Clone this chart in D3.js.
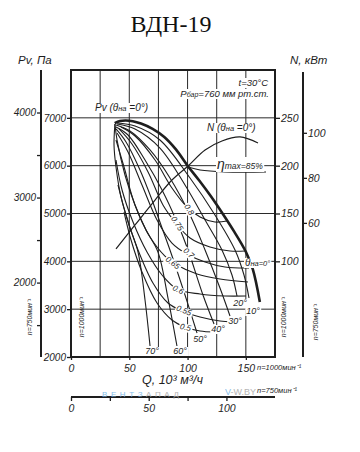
<!DOCTYPE html>
<html><head><meta charset="utf-8">
<script src="https://cdn.jsdelivr.net/npm/d3@7/dist/d3.min.js"></script>
<style>body{margin:0;background:#fff}svg{display:block}</style>
</head><body><svg id="c" width="360" height="452"></svg>
<script>
// ---------- data ----------
const qTicks1000 = [0, 50, 100, 150];
const qTicks750 = [0, 25, 50, 75, 100];
const qLabels750 = [0, 50, 100];
const qGrid = [25, 50, 75, 100, 125, 150];
const pTicks1000 = [2000, 3000, 4000, 5000, 6000, 7000];
const pGrid = [3000, 4000, 5000, 6000, 7000];
const pTicks750 = [1500, 2000, 2500, 3000, 3500, 4000];
const pLabels750 = [2000, 3000, 4000];
const nTicks1000 = [100, 150, 200, 250];
const nTicks750 = [60, 80, 100];

// Pv curves (Q, Pv) for guide-vane angles
const pv0  = [[37.5,6890],[42,6935],[47,6945],[53,6930],[60,6880],[70,6770],[80,6600],[90,6340],[100,6000],[110,5690],[120,5360],[130,5000],[140,4620],[150,4200],[156,3830],[162,3150]];
const pv10 = [[39.5,6892],[54.9,6829],[76.3,6537],[102.1,5742],[123.5,4969],[140.7,4237],[148.4,3714],[152.7,3233]];
const pv20 = [[39.5,6871],[54.9,6767],[76.3,6369],[97.8,5596],[115.0,4864],[129.5,4237],[138.1,3714],[142.4,3275]];
const pv30 = [[38.6,6850],[50.6,6725],[67.8,6328],[84.9,5742],[102.1,4969],[115.0,4237],[127.8,3442],[136.4,2857]];
const pv40 = [[38.6,6808],[48.9,6641],[63.5,6118],[78.1,5491],[90.9,4822],[100.4,4237],[113.2,3296],[122.7,2690]];
const pv50 = [[38.6,6767],[47.2,6495],[59.2,5909],[69.5,5282],[78.1,4697],[84.9,4237],[97.8,3296],[108.1,2502]];
const pv60 = [[37.7,6871],[39.5,6537],[46.3,5805],[54.9,5178],[64.3,4655],[74.6,4195],[83.2,3233],[90.9,2230]];
const pv70 = [[37.7,6871],[36.9,6432],[38.6,5972],[42.9,5345],[49.8,4760],[57.5,4195],[63.5,3192],[67.8,2230]];
const angles = [10, 20, 30, 40, 50, 60, 70];

// efficiency contours (Q, Pv)
const eta80 = [[42.9,6808],[54.9,6620],[72.1,6118],[86.6,5533],[99.5,5136],[110.7,4927],[123.5,4822],[133.8,4843]];
const eta75 = [[41.2,6767],[52.3,6453],[66.1,5868],[78.9,5178],[89.2,4822],[102.1,4488],[119.2,4300],[136.4,4216],[149.3,4216]];
const eta70 = [[39.5,6683],[48.9,6286],[60.9,5596],[73.8,4864],[86.6,4383],[99.5,4153],[115.0,3986],[132.1,3881],[152.7,3861]];
const eta65 = [[38.6,6537],[45.5,5972],[54.9,5178],[67.8,4509],[80.6,4111],[90.9,3923],[108.1,3735],[127.8,3631],[151.8,3568]];
const eta60 = [[38.6,6118],[43.8,5491],[53.2,4822],[65.2,4195],[78.1,3714],[90.9,3421],[110.7,3317],[132.1,3275],[150.1,3275]];
const eta55 = [[40.3,5596],[47.2,4969],[57.5,4237],[70.3,3547],[83.2,3129],[95.2,2962],[110.7,2836],[127.8,2753],[138.1,2732]];
const eta50 = [[45.5,5031],[51.5,4446],[60.9,3777],[73.8,3129],[86.6,2774],[97.8,2627],[110.7,2544],[122.7,2523]];
const etaNames = ["0.8", "0.75", "0.7", "0.65", "0.6", "0.55", "0.5"];
const etaMax = [[100.4,5972],[110.7,5910],[132,5870],[167.3,5868]];

// power curve N (Q, kW)
const powerN = [[38.6,112.9],[54.9,138.0],[72.1,164.1],[86.6,185.0],[100.4,199.7],[115.0,216.4],[129.5,225.8],[145.0,230.0],[160.4,223.7]];

// ---------- drawing ----------
const F = "'Liberation Sans', Arial, sans-serif";
const INK = "#1e1e1e";
const svg = d3.select("#c");

const x = d3.scaleLinear().domain([0, 175]).range([71, 275]);
const y = d3.scaleLinear().domain([2000, 8000]).range([357, 70]);
const yN = d3.scaleLinear().domain([0, 300]).range([357, 70]);
const y750 = d3.scaleLinear().domain([1125, 4500]).range([357, 70]);
const x750 = d3.scaleLinear().domain([0, 131.25]).range([71, 275]);
const yN750 = d3.scaleLinear().domain([0, 127]).range([358, 72]);

// title
svg.append("text").attr("x", 171).attr("y", 32).attr("text-anchor", "middle")
  .attr("font-family", "'Liberation Serif', 'Times New Roman', serif").attr("font-size", 24)
  .attr("fill", "#111").text("ВДН-19");

function it(sel, size) {
  return sel.attr("font-family", F).attr("font-style", "italic").attr("font-size", size).attr("fill", INK);
}
it(svg.append("text").attr("x", 18).attr("y", 64), 11.5).text("Pv, Па");
it(svg.append("text").attr("x", 290).attr("y", 64), 11.5).text("N, кВт");

// grid
const grid = svg.append("g").attr("stroke", "#2a2a2a").attr("stroke-width", 1);
grid.selectAll("line.v").data(qGrid).join("line")
  .attr("x1", d => x(d)).attr("x2", d => x(d)).attr("y1", y(8000)).attr("y2", y(2000));
grid.selectAll("line.h").data(pGrid).join("line").attr("class", "h")
  .attr("y1", d => y(d)).attr("y2", d => y(d)).attr("x1", x(0)).attr("x2", x(175));

// frame
svg.append("rect").attr("x", x(0)).attr("y", y(8000)).attr("width", x(175) - x(0))
  .attr("height", y(2000) - y(8000)).attr("fill", "none").attr("stroke", INK).attr("stroke-width", 2);

function styleAxis(g, size) {
  g.select(".domain").remove();
  g.selectAll(".tick line").attr("stroke", INK).attr("stroke-width", 1.3);
  g.selectAll(".tick text").attr("font-family", F).attr("font-style", "italic")
    .attr("font-size", size).attr("fill", INK);
}

// inner left axis (n = 1000)
svg.append("g").attr("transform", "translate(71,0)")
  .call(d3.axisLeft(y).tickValues(pTicks1000).tickSize(4).tickPadding(1).tickFormat(d3.format("d")))
  .call(g => styleAxis(g, 10));

// outer left axis (n = 750)
svg.append("line").attr("x1", 41).attr("x2", 41).attr("y1", 70).attr("y2", 357)
  .attr("stroke", INK).attr("stroke-width", 2);
svg.append("g").attr("transform", "translate(41,0)")
  .call(d3.axisLeft(y750).tickValues(pTicks750).tickSize(4).tickPadding(1)
    .tickFormat(d => pLabels750.includes(d) ? d : ""))
  .call(g => styleAxis(g, 10));

// inner right axis (N, n=1000)
svg.append("g").attr("transform", "translate(275,0)")
  .call(d3.axisRight(yN).tickValues(nTicks1000).tickSize(5).tickPadding(1))
  .call(g => styleAxis(g, 10.5));

// outer right axis (N, n=750)
svg.append("line").attr("x1", 303).attr("x2", 303).attr("y1", 72).attr("y2", 357)
  .attr("stroke", INK).attr("stroke-width", 2);
svg.append("g").attr("transform", "translate(303,0)")
  .call(d3.axisRight(yN750).tickValues(nTicks750).tickSize(4).tickPadding(1))
  .call(g => styleAxis(g, 10.5));

// bottom axis n=1000
svg.append("g").attr("transform", "translate(0,357)")
  .call(d3.axisBottom(x).tickValues(qTicks1000).tickSize(3).tickPadding(5))
  .call(g => styleAxis(g, 10.5));

// bottom axis n=750
svg.append("line").attr("x1", x750(0)).attr("x2", x750(131.25)).attr("y1", 397).attr("y2", 397)
  .attr("stroke", INK).attr("stroke-width", 2);
svg.append("g").attr("transform", "translate(0,397)")
  .call(d3.axisBottom(x750).tickValues(qTicks750).tickSize(4).tickPadding(4)
    .tickFormat(d => qLabels750.includes(d) ? d : ""))
  .call(g => styleAxis(g, 10.5));

// rotated rpm labels
function rot(xp, yp, txt) {
  it(svg.append("text").attr("transform", `translate(${xp},${yp}) rotate(-90)`)
    .attr("text-anchor", "middle"), 7).text(txt);
}
rot(32, 317, "n=750мин⁻¹");
rot(84, 317, "n=1000мин⁻¹");
rot(286, 317, "n=1000мин⁻¹");
rot(318, 322, "n=750мин⁻¹");

it(svg.append("text").attr("x", 257).attr("y", 370), 7.5).text("n=1000мин⁻¹");
it(svg.append("text").attr("x", 257).attr("y", 393), 7.5).text("n=750мин⁻¹");

// Q label + watermark
it(svg.append("text").attr("x", 142).attr("y", 384), 12.5).text("Q, 10³ м³/ч");
const wm = svg.append("text").attr("x", 102).attr("y", 397).attr("font-family", F)
  .attr("font-size", 8).attr("letter-spacing", 3.6).attr("opacity", 0.85);
wm.append("tspan").attr("fill", "#6fb3e6").text("ВЕНТЗ");
wm.append("tspan").attr("fill", "#a8a8a8").text("АПАД");
const wm2 = svg.append("text").attr("x", 225).attr("y", 395).attr("font-family", F)
  .attr("font-size", 9).attr("opacity", 0.85);
wm2.append("tspan").attr("fill", "#6fb3e6").text("V");
wm2.append("tspan").attr("fill", "#a8a8a8").text("-W.BY");

// curves
const line = d3.line().x(d => x(d[0])).y(d => y(d[1])).curve(d3.curveCatmullRom.alpha(0.5));
const curves = svg.append("g").attr("fill", "none").attr("stroke", INK);
const etaSets = [eta80, eta75, eta70, eta65, eta60, eta55, eta50];
etaSets.forEach(s => curves.append("path").attr("d", line(s)).attr("stroke-width", 1.1));
const pvSets = [pv10, pv20, pv30, pv40, pv50, pv60, pv70];
pvSets.forEach(s => curves.append("path").attr("d", line(s)).attr("stroke-width", 1.1));
curves.append("path").attr("d", line(etaMax)).attr("stroke-width", 1.1);
const lineN = d3.line().x(d => x(d[0])).y(d => yN(d[1])).curve(d3.curveCatmullRom.alpha(0.5));
curves.append("path").attr("d", lineN(powerN)).attr("stroke-width", 1.2);
curves.append("path").attr("d", line(pv0)).attr("stroke-width", 2.6);

// labels with white background
function bgText(xp, yp, r, anchor, parts, size) {
  const g = svg.append("g").attr("transform", `translate(${xp},${yp}) rotate(${r})`);
  const rect = g.append("rect").attr("fill", "#fff");
  const t = it(g.append("text").attr("text-anchor", anchor), size);
  parts.forEach(p => {
    const ts = t.append("tspan").text(p.t);
    if (p.s) ts.attr("font-size", p.s);
  });
  const b = t.node().getBBox();
  rect.attr("x", b.x - 1).attr("y", b.y + 1).attr("width", b.width + 2).attr("height", b.height - 1);
  return g;
}

// efficiency labels
const etaLabelPos = [[99.5,5115,58],[89.2,4822,58],[99.5,4195,42],[85.8,3986,38],[90.9,3421,28],[96.1,2983,22],[97.8,2627,12]];
etaNames.forEach((n, i) => {
  const p = etaLabelPos[i];
  bgText(x(p[0]), y(p[1]) + 3, p[2], "middle", [{t: n}], 8);
});

// angle labels at curve ends
const angleOffsets = [[4, 16], [3, 10], [5, 8], [4, 8], [3, 9], [3, 8], [2, 8]];
pvSets.forEach((s, i) => {
  const e = s[s.length - 1];
  bgText(x(e[0]) + angleOffsets[i][0], y(e[1]) + angleOffsets[i][1], 0, "middle", [{t: angles[i] + "°"}], 9);
});

bgText(245, 266, 0, "start", [{t: "θ", s: 10}, {t: "на=0°", s: 7.5}], 10);
bgText(95, 111, 0, "start", [{t: "Pv (θ"}, {t: "на", s: 7.5}, {t: " =0°)"}], 10);
bgText(207, 131, 0, "start", [{t: "N (θ"}, {t: "на", s: 7.5}, {t: " =0°)"}], 10);
bgText(217, 169, 0, "start", [{t: "η", s: 14}, {t: "max=85%", s: 8.5}], 10);
bgText(268, 86, 0, "end", [{t: "t=30°C"}], 9.5);
bgText(269, 97, 0, "end", [{t: "P"}, {t: "бар", s: 7}, {t: "=760 мм рт.ст."}], 9.5);
</script></body></html>
